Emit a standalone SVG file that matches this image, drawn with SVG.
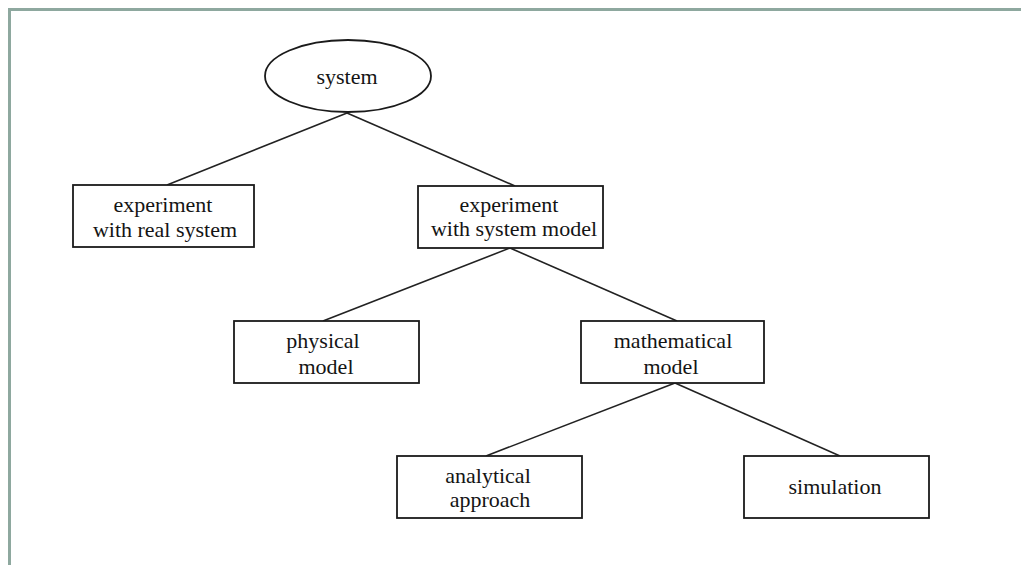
<svg xmlns="http://www.w3.org/2000/svg" width="1021" height="565" viewBox="0 0 1021 565">
  <style>
    .frame { fill: #ffffff; stroke: #8ea89f; stroke-width: 3; }
    .node { fill: #ffffff; stroke: #1a1a1a; stroke-width: 1.8; }
    .edge { stroke: #222222; stroke-width: 1.6; fill: none; }
    .label { font-family: "Liberation Serif", "Times New Roman", serif; font-size: 22px; fill: #141414; text-anchor: middle; }
  </style>

  <!-- page background and frame -->
  <rect x="0" y="0" width="1021" height="565" fill="#ffffff"/>
  <path class="frame" d="M 9.5 575 L 9.5 9.5 L 1030 9.5"/>

  <!-- connectors -->
  <g id="connectors">
    <line class="edge" x1="347" y1="113" x2="167" y2="185"/>
    <line class="edge" x1="347" y1="113" x2="515" y2="186"/>
    <line class="edge" x1="510" y1="248" x2="323" y2="321"/>
    <line class="edge" x1="510" y1="248" x2="677" y2="321"/>
    <line class="edge" x1="675" y1="383" x2="486" y2="456"/>
    <line class="edge" x1="675" y1="383" x2="840" y2="456"/>
  </g>

  <g id="node-system">
    <ellipse class="node" cx="348" cy="76" rx="83" ry="36"/>
    <text class="label" x="347" y="84">system</text>
  </g>

  <g id="node-real">
    <rect class="node" x="73" y="185" width="181" height="62"/>
    <text class="label" x="163" y="212">experiment</text>
    <text class="label" x="165" y="237">with real system</text>
  </g>

  <g id="node-model">
    <rect class="node" x="418" y="186" width="185" height="62"/>
    <text class="label" x="509" y="212">experiment</text>
    <text class="label" x="514" y="236">with system model</text>
  </g>

  <g id="node-physical">
    <rect class="node" x="234" y="321" width="185" height="62"/>
    <text class="label" x="323" y="348">physical</text>
    <text class="label" x="326" y="374">model</text>
  </g>

  <g id="node-math">
    <rect class="node" x="581" y="321" width="183" height="62"/>
    <text class="label" x="673" y="348">mathematical</text>
    <text class="label" x="671" y="374">model</text>
  </g>

  <g id="node-analytical">
    <rect class="node" x="397" y="456" width="185" height="62"/>
    <text class="label" x="488" y="483">analytical</text>
    <text class="label" x="490" y="507">approach</text>
  </g>

  <g id="node-simulation">
    <rect class="node" x="744" y="456" width="185" height="62"/>
    <text class="label" x="835" y="494">simulation</text>
  </g>
</svg>
